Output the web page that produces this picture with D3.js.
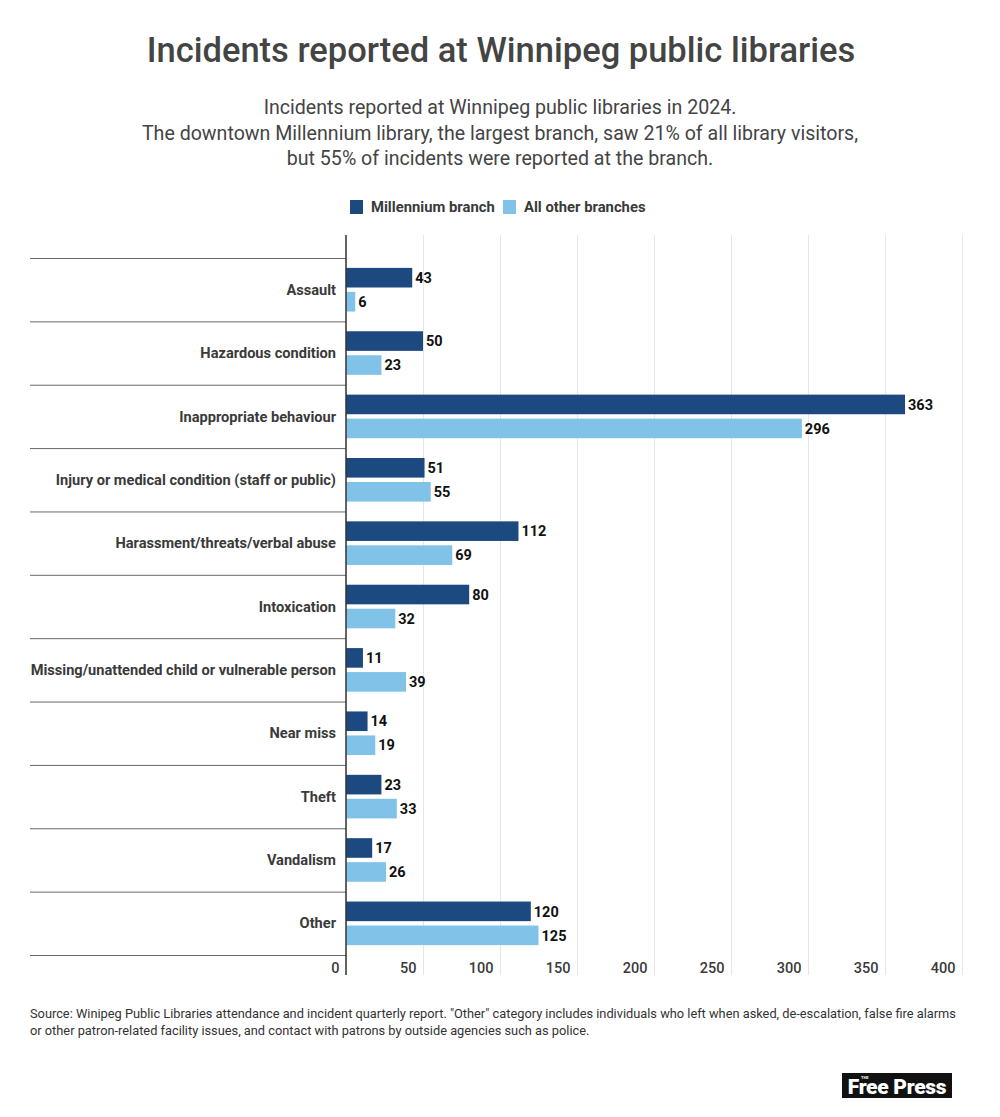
<!DOCTYPE html>
<html>
<head>
<meta charset="utf-8">
<script src="https://cdn.jsdelivr.net/npm/d3@7"></script>
<style>
  body { margin: 0; background: #fff; }
  svg { font-family: Roboto, "Noto Sans", sans-serif; }
</style>
</head>
<body>
<svg id="chart" width="1000" height="1117"></svg>
<script>
// data
const categories = [
    'Assault',
    'Hazardous condition',
    'Inappropriate behaviour',
    'Injury or medical condition (staff or public)',
    'Harassment/threats/verbal abuse',
    'Intoxication',
    'Missing/unattended child or vulnerable person',
    'Near miss',
    'Theft',
    'Vandalism',
    'Other'
];
const seriesNames = ['Millennium branch', 'All other branches'];
const millennium = [43, 50, 363, 51, 112, 80, 11, 14, 23, 17, 120];
const otherBranches = [6, 23, 296, 55, 69, 32, 39, 19, 33, 26, 125];
const xTicks = [0, 50, 100, 150, 200, 250, 300, 350, 400];

const colors = ['#1c4a80', '#80c2e8'];

const rows = categories.map((c, i) => ({
    category: c,
    values: [
        { series: seriesNames[0], value: millennium[i] },
        { series: seriesNames[1], value: otherBranches[i] }
    ]
}));

const svg = d3.select('#chart');

//Header
svg.append('text')
    .attr('x', 501).attr('y', 62)
    .attr('text-anchor', 'middle')
    .style('font-size', '34.5px').style('font-weight', 500).style('fill', '#444')
    .text('Incidents reported at Winnipeg public libraries');

const subtitle = [
    'Incidents reported at Winnipeg public libraries in 2024.',
    'The downtown Millennium library, the largest branch, saw 21% of all library visitors,',
    'but 55% of incidents were reported at the branch.'
];
svg.append('g').selectAll('text').data(subtitle).join('text')
    .attr('x', 500).attr('y', (d, i) => 114 + i * 25.5)
    .attr('text-anchor', 'middle')
    .style('font-size', '19.6px').style('fill', '#444')
    .text(d => d);

//Legend
const legend = svg.append('g').attr('transform', 'translate(350,207)');
const legendX = [0, 153];
seriesNames.forEach((s, i) => {
    const g = legend.append('g').attr('transform', `translate(${legendX[i]},0)`);
    g.append('rect').attr('x', 0).attr('y', -7).attr('width', 13).attr('height', 14)
        .style('fill', colors[i]);
    g.append('text').attr('x', 21).attr('y', 0).attr('dy', '0.35em')
        .style('font-size', '14.8px').style('font-weight', 700).style('fill', '#3a3a3a')
        .text(s);
});

//Scales
const chartTop = 235, chartBottom = 975;
const xScale = d3.scaleLinear([0, 400], [346, 962]);
const yScale = d3.scaleBand().domain(categories).range([258, 955]);
const subScale = d3.scaleBand().domain(seriesNames).range([9.9, 53.5]).paddingInner(0.183);

//Grid + tick labels
const xAxis = d3.axisBottom(xScale).tickValues(xTicks)
    .tickSize(-(chartBottom - chartTop)).tickSizeOuter(0).tickFormat(d3.format('d'));
const xAxisDraw = svg.append('g').attr('class', 'x axis')
    .attr('transform', `translate(0,${chartBottom})`)
    .call(xAxis);
xAxisDraw.select('.domain').remove();
xAxisDraw.selectAll('.tick line').style('stroke', '#e6e6e6').style('stroke-width', 1);
xAxisDraw.selectAll('.tick text')
    .attr('text-anchor', 'end').attr('x', -7).attr('y', -2).attr('dy', 0)
    .style('font-size', '14.5px').style('font-weight', 500).style('fill', '#3a3a3a')
    .style('font-family', 'Roboto, sans-serif');

//Row separators
svg.append('g').selectAll('line').data(categories.concat(['_end'])).join('line')
    .attr('x1', 30).attr('x2', 346)
    .attr('y1', (d, i) => 258 + i * yScale.step() + 0.5)
    .attr('y2', (d, i) => 258 + i * yScale.step() + 0.5)
    .style('stroke', '#6a6a6a').style('stroke-width', 1);

//Bars
const groups = svg.append('g').attr('class', 'bars').selectAll('g').data(rows).join('g')
    .attr('transform', d => `translate(0,${yScale(d.category)})`);

groups.selectAll('rect').data(d => d.values).join('rect')
    .attr('x', xScale(0))
    .attr('y', d => subScale(d.series))
    .attr('width', d => xScale(d.value) - xScale(0))
    .attr('height', subScale.bandwidth())
    .style('fill', (d, i) => colors[i]);

groups.selectAll('text.value').data(d => d.values).join('text')
    .attr('class', 'value')
    .attr('x', d => xScale(d.value) + 3)
    .attr('y', d => subScale(d.series) + subScale.bandwidth() / 2)
    .attr('dy', '0.36em')
    .style('font-size', '14.5px').style('font-weight', 700).style('fill', '#111')
    .text(d => d.value);

//Category labels
groups.append('text')
    .attr('x', 336).attr('y', yScale.bandwidth() / 2).attr('dy', '0.35em')
    .attr('text-anchor', 'end')
    .style('font-size', '14.6px').style('font-weight', 700).style('fill', '#3a3a3a')
    .text(d => d.category);

//Zero axis line
svg.append('line')
    .attr('x1', xScale(0)).attr('x2', xScale(0))
    .attr('y1', chartTop).attr('y2', chartBottom)
    .style('stroke', '#333').style('stroke-width', 1.5);

//Footnote
const notes = [
    'Source: Winipeg Public Libraries attendance and incident quarterly report. "Other" category includes individuals who left when asked, de-escalation, false fire alarms',
    'or other patron-related facility issues, and contact with patrons by outside agencies such as police.'
];
svg.append('g').selectAll('text').data(notes).join('text')
    .attr('x', 30).attr('y', (d, i) => 1018 + i * 17)
    .style('font-size', '12.8px').style('fill', '#333')
    .text(d => d);

//Logo
const logo = svg.append('g').attr('transform', 'translate(842,1073)');
logo.append('rect').attr('width', 110).attr('height', 25).style('fill', '#111');
logo.append('text').attr('x', 55).attr('y', 21).attr('text-anchor', 'middle')
    .style('font-size', '21px').style('font-weight', 900).style('fill', '#fff')
    .style('letter-spacing', '-0.3px')
    .text('Free Press');
logo.append('text').attr('x', 19).attr('y', 6).style('font-size', '4px')
    .style('font-weight', 700).style('fill', '#fff').text('THE');
</script>
</body>
</html>
